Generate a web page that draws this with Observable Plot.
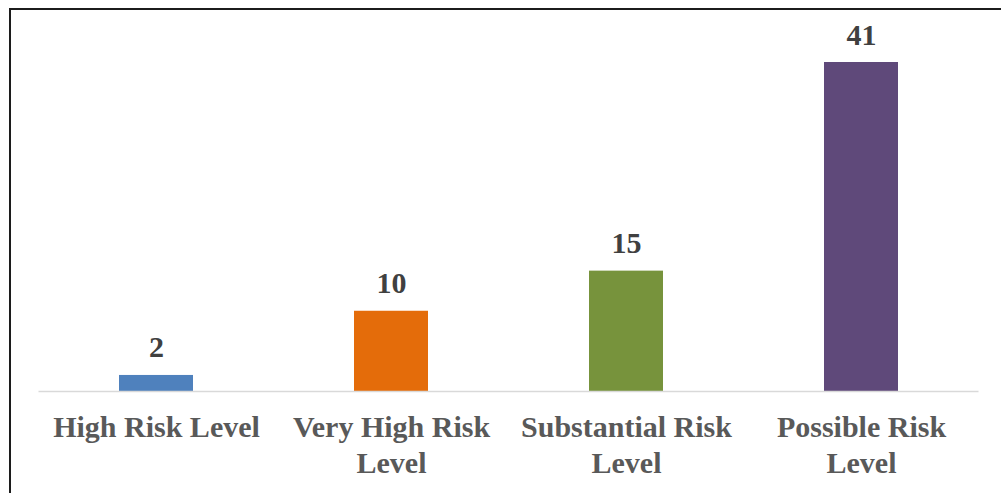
<!DOCTYPE html>
<html>
<head>
<meta charset="utf-8">
<script src="https://cdn.jsdelivr.net/npm/d3@7"></script>
<script src="https://cdn.jsdelivr.net/npm/@observablehq/plot@0.6"></script>
<style>
  html, body { margin: 0; padding: 0; background: #fff; }
  #wrap { position: relative; width: 1001px; height: 493px; overflow: hidden; }
  #wrap svg { position: absolute; left: 0; top: 0; }
  #frame {
    position: absolute; left: 9px; top: 8px; width: 1000px; height: 500px;
    border-left: 2px solid #1c1c1c; border-top: 2px solid #1c1c1c;
    pointer-events: none;
  }
</style>
</head>
<body>
<div id="wrap"><div id="frame"></div></div>
<script>
// Risk levels and their counts
const categories = ["High Risk Level", "Very High Risk Level", "Substantial Risk Level", "Possible Risk Level"];
const tickLabels = ["High Risk Level", "Very High Risk\nLevel", "Substantial Risk\nLevel", "Possible Risk\nLevel"];
const counts = [2, 10, 15, 41];
const colors = ["#4f81bd", "#e46c0a", "#77933c", "#5f497a"];

const rows = categories.map((c, i) => ({category: c, count: counts[i]}));
const labelOf = new Map(categories.map((c, i) => [c, tickLabels[i]]));
const font = "'Liberation Serif', 'Times New Roman', serif";

const chart = Plot.plot({
  width: 1001,
  height: 493,
  marginLeft: 38.5,
  marginRight: 22.5,
  marginTop: 62,
  marginBottom: 102,
  style: {fontFamily: font, background: "transparent"},
  x: {domain: categories, paddingInner: 0.685, paddingOuter: 0.3425},
  y: {domain: [0, 41], axis: null},
  color: {domain: categories, range: colors},
  marks: [
    Plot.barY(rows, {x: "category", y: "count", fill: "category"}),
    Plot.ruleY([0], {stroke: "#d9d9d9", strokeWidth: 1.3}),
    Plot.text(rows, {
      x: "category", y: "count", text: d => String(d.count),
      lineAnchor: "bottom", dy: -18,
      fontSize: 30, fontWeight: "bold", fill: "#404040", fontFamily: font
    }),
    Plot.axisX({
      tickSize: 0, tickPadding: 21, label: null,
      tickFormat: d => labelOf.get(d),
      fontSize: 30, fontWeight: "bold", fill: "#595959", lineHeight: 1.17,
      fontFamily: font
    })
  ]
});

document.getElementById("wrap").prepend(chart);
</script>
</body>
</html>
